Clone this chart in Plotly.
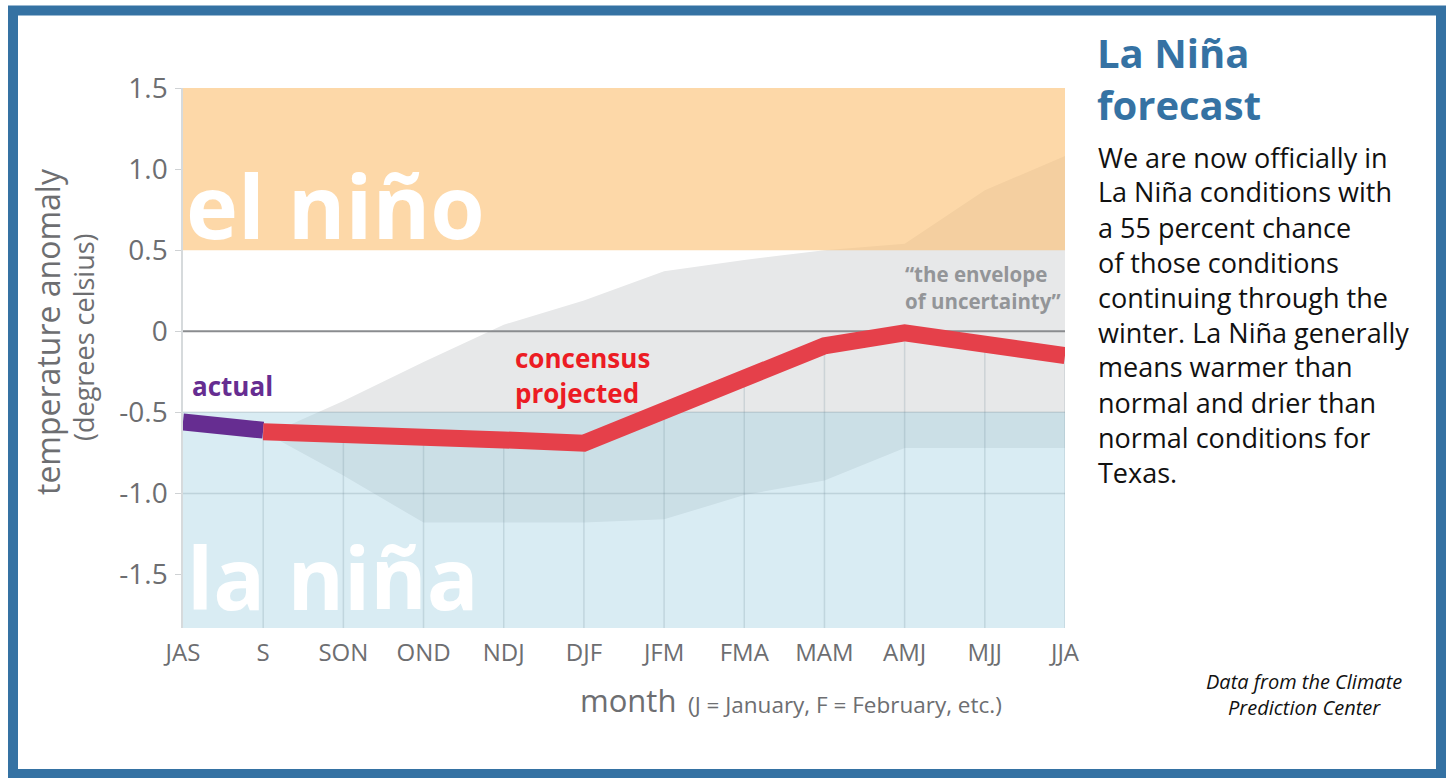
import plotly.graph_objects as go

# ---------------- data ----------------
categories = ["JAS", "S", "SON", "OND", "NDJ", "DJF", "JFM", "FMA", "MAM", "AMJ", "MJJ", "JJA"]

actual_months = ["JAS", "S"]
actual_values = [-0.56, -0.61]

projected_months = ["S", "SON", "OND", "NDJ", "DJF", "JFM", "FMA", "MAM", "AMJ", "MJJ", "JJA"]
projected_values = [-0.62, -0.63, -0.65, -0.67, -0.69, -0.49, -0.30, -0.09, -0.01, -0.07, -0.15]

envelope_upper = [-0.65, -0.43, -0.19, 0.04, 0.19, 0.37, 0.44, 0.50, 0.54, 0.87, 1.08]
envelope_lower = [-0.62, -0.89, -1.18, -1.18, -1.18, -1.16, -1.01, -0.92, -0.72, -0.72, -0.72]

el_nino_band = [0.5, 1.5]
la_nina_band = [-0.5, -1.83]
gridline_values = [-0.5, -1.0]

y_tick_values = [-1.5, -1.0, -0.5, 0, 0.5, 1.0, 1.5]
y_tick_labels = ["-1.5", "-1.0", "-0.5", "0", "0.5", "1.0", "1.5"]

body_lines = [
    "We are now officially in",
    "La Niña conditions with",
    "a 55 percent chance",
    "of those conditions",
    "continuing through the",
    "winter. La Niña generally",
    "means warmer than",
    "normal and drier than",
    "normal conditions for",
    "Texas.",
]

# ---------------- layout geometry ----------------
W, H = 1450, 778
L, R_EDGE, T, B_EDGE = 183, 1065, 88, 628
PW, PH = R_EDGE - L, B_EDGE - T
Y_RANGE = [la_nina_band[1], el_nino_band[1]]
FONT = "Open Sans"
GRAY = "#6d6e71"
BLUE = "#3572a3"


def px(x):
    return (x - L) / PW


def py(y):
    return (B_EDGE - y) / PH


first, last = categories[0], categories[-1]

fig = go.Figure()

# envelope of uncertainty (opaque, bands are translucent on top)
fig.add_trace(go.Scatter(
    x=projected_months + projected_months[::-1],
    y=envelope_upper + envelope_lower[::-1],
    fill="toself", fillcolor="#e7e8e9", line=dict(width=0),
    mode="lines", hoverinfo="skip", showlegend=False,
))

# el niño band
fig.add_trace(go.Scatter(
    x=[first, last, last, first, first],
    y=[el_nino_band[0], el_nino_band[0], el_nino_band[1], el_nino_band[1], el_nino_band[0]],
    fill="toself", fillcolor="rgba(252,193,116,0.625)", line=dict(width=0),
    mode="lines", hoverinfo="skip", showlegend=False,
))
# la niña band
fig.add_trace(go.Scatter(
    x=[first, last, last, first, first],
    y=[la_nina_band[0], la_nina_band[0], la_nina_band[1], la_nina_band[1], la_nina_band[0]],
    fill="toself", fillcolor="rgba(164,209,226,0.42)", line=dict(width=0),
    mode="lines", hoverinfo="skip", showlegend=False,
))

# horizontal grid lines inside la niña band
gx, gy = [], []
for v in gridline_values:
    gx += [first, last, None]
    gy += [v, v, None]
fig.add_trace(go.Scatter(x=gx, y=gy, mode="lines",
                         line=dict(color="rgba(110,135,148,0.25)", width=1.5),
                         hoverinfo="skip", showlegend=False))

# drop lines from projection down to the axis bottom
dx, dy = [], []
for m, v in zip(projected_months, projected_values):
    dx += [m, m, None]
    dy += [v, Y_RANGE[0], None]
fig.add_trace(go.Scatter(x=dx, y=dy, mode="lines",
                         line=dict(color="rgba(110,135,148,0.22)", width=1.5),
                         hoverinfo="skip", showlegend=False))

# zero line
fig.add_trace(go.Scatter(x=[first, last], y=[0, 0], mode="lines",
                         line=dict(color="#8a8c8f", width=2),
                         hoverinfo="skip", showlegend=False))

# actual
fig.add_trace(go.Scatter(x=actual_months, y=actual_values, mode="lines",
                         line=dict(color="#662d91", width=17),
                         hoverinfo="skip", showlegend=False))
# projected
fig.add_trace(go.Scatter(x=projected_months, y=projected_values, mode="lines",
                         line=dict(color="#e5404a", width=17),
                         hoverinfo="skip", showlegend=False))

annotations = []


def note(text, x, y, size, color, bold=False, italic=False, xanchor="left", angle=0, align="left"):
    t = text
    if bold:
        t = "<b>" + t + "</b>"
    if italic:
        t = "<i>" + t + "</i>"
    annotations.append(dict(
        text=t, x=px(x), y=py(y), xref="paper", yref="paper",
        xanchor=xanchor, yanchor="middle", showarrow=False, textangle=angle,
        align=align, font=dict(family=FONT, size=size, color=color),
    ))


note("el niño", 184, 205, 88, "white", bold=True)
note("la niña", 185, 576, 86, "white", bold=True)
note("actual", 190, 386, 26, "#662d91", bold=True)
note("concensus", 513, 358, 26, "#ec1c24", bold=True)
note("projected", 513, 393, 26, "#ec1c24", bold=True)
note("“the envelope", 903, 274, 20.5, "#939598", bold=True)
note("of uncertainty”", 903, 301, 20.5, "#939598", bold=True)

note("La Niña", 1095, 52, 40, BLUE, bold=True)
note("forecast", 1095, 104, 40, BLUE, bold=True)
for i, line in enumerate(body_lines):
    note(line, 1096, 157 + 35 * i, 27, "#111111")

note("Data from the Climate<br>Prediction Center", 1304, 694, 20, "#111111",
     italic=True, xanchor="center", align="center")

note("temperature anomaly", 47, 332, 32, GRAY, angle=-90, xanchor="center")
note("(degrees celsius)", 83, 337, 27, GRAY, angle=-90, xanchor="center")

note("month", 578, 700, 31, GRAY)
note("(J = January, F = February, etc.)", 686, 704, 22.5, GRAY)

fig.update_layout(
    width=W, height=H,
    margin=dict(l=L, r=W - R_EDGE, t=T, b=H - B_EDGE, pad=0),
    paper_bgcolor="white", plot_bgcolor="white",
    hovermode=False, showlegend=False,
    annotations=annotations,
    shapes=[dict(type="rect", xref="paper", yref="paper",
                 x0=px(13), x1=px(1441), y0=py(774), y1=py(10.5),
                 line=dict(color=BLUE, width=10), fillcolor="rgba(0,0,0,0)")],
    xaxis=dict(
        type="category", categoryorder="array", categoryarray=categories,
        range=[0, len(categories) - 1], showgrid=False, zeroline=False,
        showline=False, ticks="", tickfont=dict(family=FONT, size=24, color=GRAY),
        ticklabelstandoff=8, fixedrange=True,
    ),
    yaxis=dict(
        range=Y_RANGE, tickvals=y_tick_values, ticktext=y_tick_labels,
        showgrid=False, zeroline=False, showline=True, linecolor="#d6dadc", linewidth=1.5,
        ticks="outside", ticklen=6, tickcolor="#cfd2d4", tickwidth=1,
        tickfont=dict(family=FONT, size=28, color=GRAY), ticklabelstandoff=2,
        fixedrange=True,
    ),
)

fig.write_html(
    "out.html",
    config={"displayModeBar": False},
    post_script="document.body.style.margin='0px';document.body.style.overflow='hidden';",
)
